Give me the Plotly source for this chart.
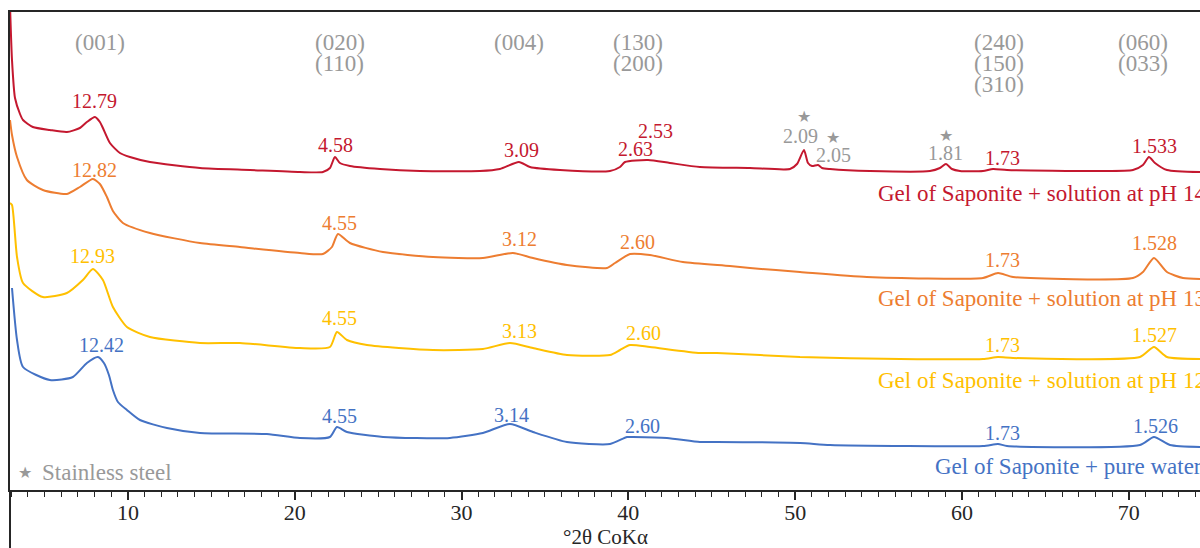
import plotly.graph_objects as go

# ---------------- data (x in °2θ CoKα, y in arbitrary intensity units incl. offset) -------------
x_ph14 = [2.93, 3.05, 3.23, 3.53, 3.71, 4.30, 5.32, 6.34, 7.12, 7.54, 8.02, 8.32, 8.50, 8.92, 9.52,
          10.12, 11.32, 14.32, 17.31, 20.31, 21.69, 22.11, 22.41, 22.71, 23.31, 25.11, 27.51, 31.10,
          32.30, 33.44, 34.10, 35.90, 38.90, 39.50, 39.80, 41.18, 42.49, 44.29, 47.29, 49.69, 50.11,
          50.53, 50.77, 51.01, 51.37, 51.61, 52.09, 54.48, 58.08, 58.68, 59.04, 59.40, 59.88, 61.26,
          61.86, 62.70, 68.27, 70.25, 70.85, 71.21, 71.57, 72.29, 74.27]
y_ph14 = [485, 430, 392, 376, 370, 363, 360, 358, 362, 368, 373, 368, 362, 347, 337,
          333, 328, 322, 320, 318, 318, 322, 333, 327, 324, 321, 319, 319,
          321, 328, 323, 320, 319, 323, 328, 330, 327, 323, 322, 321, 326,
          340, 327, 324, 325, 322, 321, 319, 319, 322, 326, 321, 319, 319,
          321, 320, 319, 320, 325, 333, 327, 320, 318]

x_ph13 = [2.93, 3.05, 3.35, 3.94, 4.90, 6.34, 7.12, 7.90, 8.32, 8.74, 9.10, 9.70, 11.32, 14.32,
          16.71, 20.31, 21.69, 22.23, 22.59, 23.31, 25.29, 28.29, 31.28, 33.08, 34.28, 36.32, 38.72,
          39.20, 40.10, 41.29, 43.27, 46.09, 47.29, 50.29, 54.30, 61.26, 62.16, 63.06, 70.25, 70.85,
          71.51, 72.29, 73.25, 74.27]
y_ph13 = [370, 355, 333, 310, 300, 296, 303, 311, 306, 293, 279, 267, 257, 247,
          243, 237, 236, 243, 256, 247, 238, 233, 232, 237, 232, 225, 222,
          227, 236, 235, 228, 224, 222, 218, 213, 212, 217, 213, 212, 218,
          232, 218, 212, 211]

x_ph12 = [2.93, 3.05, 3.35, 3.71, 4.90, 6.34, 7.30, 7.90, 8.50, 9.10, 9.94, 11.32, 14.32, 16.71,
          20.31, 22.11, 22.53, 23.13, 24.33, 28.29, 31.28, 32.90, 34.28, 36.32, 38.90, 39.50, 40.10,
          41.29, 44.29, 45.31, 50.29, 56.28, 61.26, 62.16, 63.06, 70.67, 71.51, 72.29, 74.27]
y_ph12 = [287, 285, 233, 207, 193, 197, 210, 221, 210, 183, 163, 153, 147, 147,
          142, 143, 158, 150, 145, 140, 141, 147, 142, 135, 135, 140, 145,
          143, 137, 137, 133, 131, 131, 133, 132, 133, 143, 133, 131]

x_water = [3.05, 3.35, 3.71, 5.32, 6.70, 7.54, 8.20, 8.56, 8.86, 9.10, 9.40, 9.94, 10.72, 12.34, 14.32,
           18.33, 20.31, 22.11, 22.53, 23.13, 25.29, 29.30, 31.28, 32.90, 34.28, 36.32, 38.90, 39.92,
           40.28, 42.31, 44.29, 45.31, 50.29, 52.09, 61.26, 62.16, 62.70, 70.67, 71.51, 72.47, 74.27]
y_water = [202, 150, 123, 110, 113, 127, 133, 127, 115, 100, 88, 80, 70, 62, 57,
           56, 52, 53, 63, 58, 53, 52, 57, 66, 58, 48, 46, 53,
           53, 52, 48, 48, 47, 45, 44, 46, 44, 45, 53, 45, 43]

series_names = ["Gel of Saponite + solution at pH 14", "Gel of Saponite + solution at pH 13",
                "Gel of Saponite + solution at pH 12", "Gel of Saponite + pure water"]
series_colors = ["#C4182F", "#ED7D31", "#FFC000", "#4472C4"]

# d-spacing labels (Å) per series: text, x, y
lab_ph14 = ["12.79", "4.58", "3.09", "2.63", "2.53", "1.73", "1.533"]
lab_ph14_x = [8.02, 22.47, 33.62, 40.40, 41.65, 62.40, 71.57]
lab_ph14_y = [389, 345, 340, 341, 359, 332, 344]

lab_ph13 = ["12.82", "4.55", "3.12", "2.60", "1.73", "1.528"]
lab_ph13_x = [8.02, 22.71, 33.50, 40.52, 62.40, 71.57]
lab_ph13_y = [320, 267, 251, 248, 230, 247]

lab_ph12 = ["12.93", "4.55", "3.13", "2.60", "1.73", "1.527"]
lab_ph12_x = [7.90, 22.71, 33.50, 40.88, 62.40, 71.57]
lab_ph12_y = [234, 172, 159, 157, 145, 155]

lab_water = ["12.42", "4.55", "3.14", "2.60", "1.73", "1.526"]
lab_water_x = [8.44, 22.71, 33.02, 40.82, 62.40, 71.63]
lab_water_y = [145, 74, 75, 64, 57, 64]

# stainless steel reflections
steel_lab = ["2.09", "2.05", "1.81"]
steel_x = [50.29, 52.27, 59.04]
steel_y = [354, 335, 337]
steel_star_x = [50.53, 52.27, 59.04]
steel_star_y = [374, 353, 355]

# hkl indices
hkl_text = ["(001)", "(020)", "(110)", "(004)", "(130)", "(200)", "(240)", "(150)", "(310)", "(060)", "(033)"]
hkl_x = [8.32, 22.71, 22.71, 33.44, 40.58, 40.58, 62.22, 62.22, 62.22, 70.85, 70.85]
hkl_y = [448, 448, 427, 448, 448, 427, 448, 427, 406, 448, 427]

# sample label positions (left anchored)
name_x = [54.84, 54.84, 54.84, 58.26]
name_y = [297, 192, 110, 24]

FONT = "Liberation Serif"
GRAY = "#999999"
AXIS = "#262626"

fig = go.Figure()
xs = [x_ph14, x_ph13, x_ph12, x_water]
ys = [y_ph14, y_ph13, y_ph12, y_water]
for xv, yv, nm, col in zip(xs, ys, series_names, series_colors):
    fig.add_trace(go.Scatter(x=xv, y=yv, mode="lines", name=nm,
                             line=dict(color=col, width=2, shape="spline", smoothing=0.6)))

ann = []
labs = [(lab_ph14, lab_ph14_x, lab_ph14_y), (lab_ph13, lab_ph13_x, lab_ph13_y),
        (lab_ph12, lab_ph12_x, lab_ph12_y), (lab_water, lab_water_x, lab_water_y)]
for (t, lx, ly), col in zip(labs, series_colors):
    for tt, xx, yy in zip(t, lx, ly):
        ann.append(dict(x=xx, y=yy, text=tt, showarrow=False, xanchor="center", yanchor="middle",
                        font=dict(family=FONT, size=20, color=col)))
for tt, xx, yy in zip(steel_lab, steel_x, steel_y):
    ann.append(dict(x=xx, y=yy, text=tt, showarrow=False, xanchor="center", yanchor="middle",
                    font=dict(family=FONT, size=20, color=GRAY)))
for xx, yy in zip(steel_star_x, steel_star_y):
    ann.append(dict(x=xx, y=yy, text="★", showarrow=False, xanchor="center", yanchor="middle",
                    font=dict(family="DejaVu Sans", size=16, color=GRAY)))
for tt, xx, yy in zip(hkl_text, hkl_x, hkl_y):
    ann.append(dict(x=xx, y=yy, text=tt, showarrow=False, xanchor="center", yanchor="middle",
                    font=dict(family=FONT, size=23, color=GRAY)))
for nm, xx, yy, col in zip(series_names, name_x, name_y, series_colors):
    ann.append(dict(x=xx, y=yy, text=nm, showarrow=False, xanchor="left", yanchor="middle",
                    font=dict(family=FONT, size=23, color=col)))
# legend for stainless steel
ann.append(dict(x=3.82, y=18, text="★", showarrow=False, xanchor="center", yanchor="middle",
                font=dict(family="DejaVu Sans", size=16, color=GRAY)))
ann.append(dict(x=4.72, y=18, text="Stainless steel", showarrow=False, xanchor="left", yanchor="middle",
                font=dict(family=FONT, size=23, color=GRAY)))
# axis title
ann.append(dict(x=0.5, y=0, xref="paper", yref="paper", yshift=-47, text="°2θ CoKα", showarrow=False,
                xanchor="center", yanchor="middle", font=dict(family=FONT, size=21, color=AXIS)))

fig.update_layout(
    width=1200, height=548,
    margin=dict(l=10, r=0, t=12, b=58, autoexpand=False),
    paper_bgcolor="white", plot_bgcolor="white",
    showlegend=False,
    annotations=ann,
    shapes=[dict(type="line", xref="paper", yref="paper", x0=0, x1=0, y0=0, y1=-0.13,
                 line=dict(color=AXIS, width=2))],
    xaxis=dict(range=[2.93, 74.27], showgrid=False, zeroline=False,
               showline=True, linecolor=AXIS, linewidth=2, mirror=True,
               ticks="outside", ticklen=8, tickwidth=1.5, tickcolor=AXIS,
               tick0=0, dtick=10, ticklabelstandoff=-6,
               minor=dict(dtick=1, ticks="outside", ticklen=5, tickwidth=1, tickcolor=AXIS),
               tickfont=dict(family=FONT, size=22, color=AXIS)),
    yaxis=dict(range=[0, 478], showgrid=False, zeroline=False, showticklabels=False,
               showline=True, linecolor=AXIS, linewidth=2, ticks=""),
)

# remove the browser's default 8px body margin so the figure sits at the page origin
fig.write_html("out.html", config={"displayModeBar": False},
               post_script="document.body.style.margin='0';document.body.style.overflow='hidden';")
